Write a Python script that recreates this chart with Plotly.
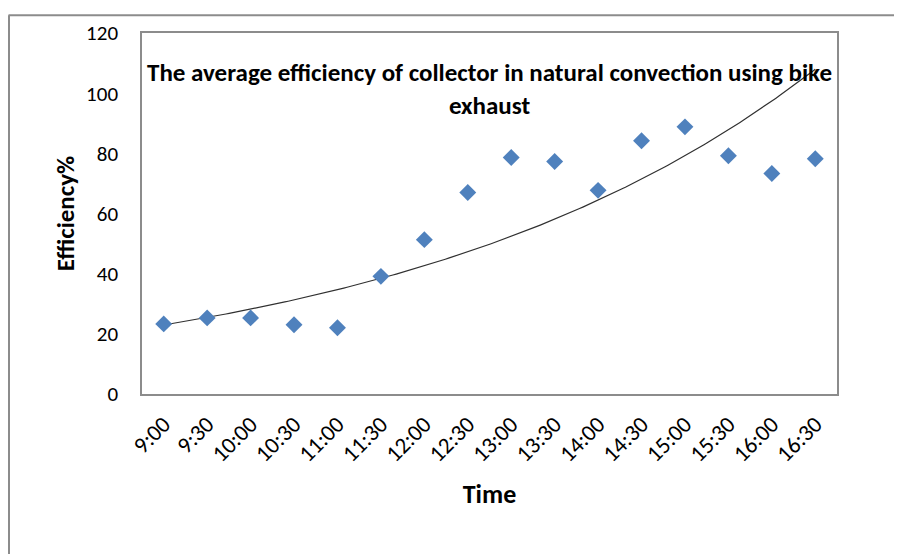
import numpy as np
import plotly.graph_objects as go

times = ["9:00", "9:30", "10:00", "10:30", "11:00", "11:30", "12:00", "12:30",
         "13:00", "13:30", "14:00", "14:30", "15:00", "15:30", "16:00", "16:30"]
efficiency = [23.3, 25.3, 25.3, 23.0, 22.0, 39.1, 51.3, 67.0,
              78.6, 77.3, 67.7, 84.2, 88.8, 79.2, 73.3, 78.2]
y_ticks = [0, 20, 40, 60, 80, 100, 120]

idx = np.arange(1, len(times) + 1)
# exponential trendline (least squares on log values), as in the spreadsheet
b, ln_a = np.polyfit(idx, np.log(efficiency), 1)
xf = np.linspace(1, len(times), 200)
yf = np.exp(ln_a) * np.exp(b * xf)

FONT = "Carlito, Lato, sans-serif"

fig = go.Figure()
fig.add_trace(go.Scatter(x=xf, y=yf, mode="lines",
                         line=dict(color="#303030", width=1.2), hoverinfo="skip",
                         showlegend=False))
fig.add_trace(go.Scatter(x=idx, y=efficiency, mode="markers",
                         marker=dict(symbol="diamond", size=13, color="#4F81BD"),
                         showlegend=False))

# page body has an 8px margin; figure coordinates = screen coordinates - 8
OFF = 8
W, H = 902 - OFF, 554 - OFF
L, R, T, B = 142 - OFF, 837 - OFF, 29 - OFF, 394 - OFF
pw, ph = R - L, B - T


def px(xs):
    return (xs - OFF - L) / pw


def py(ys):
    return (B - (ys - OFF)) / ph


fig.update_layout(
    width=W, height=H,
    margin=dict(l=L, r=W - R, t=T, b=H - B),
    paper_bgcolor="white", plot_bgcolor="white",
    font=dict(family=FONT, color="#000000"),
    xaxis=dict(range=[0.5, len(times) + 0.5], tickmode="array",
               tickvals=list(idx), ticktext=times, tickangle=-45,
               tickfont=dict(size=23), showgrid=False, zeroline=False,
               showline=True, linecolor="#8c8c8c", linewidth=1.5, mirror=True,
               ticks="", ticklabelstandoff=6,
               title=dict(text="<b>Time</b>", font=dict(size=26), standoff=18)),
    yaxis=dict(range=[0, 120], tickmode="array", tickvals=y_ticks,
               tickfont=dict(size=21), showgrid=False, zeroline=False,
               showline=True, linecolor="#8c8c8c", linewidth=1.5, mirror=True,
               ticks="", ticklabelstandoff=18,
               title=dict(text="<b>Efficiency%</b>", font=dict(size=25), standoff=4)),
    annotations=[dict(
        text="<b>The average efficiency of collector in natural convection using bike</b><br><b>exhaust</b>",
        xref="paper", yref="paper", x=px(489), y=py(86), xanchor="center", yanchor="middle",
        showarrow=False, font=dict(size=25, family=FONT))],
    shapes=[
        dict(type="line", xref="paper", yref="paper", x0=px(8.5), x1=px(910), y0=py(11), y1=py(11),
             line=dict(color="#8c8c8c", width=2)),
        dict(type="line", xref="paper", yref="paper", x0=px(9), x1=px(9), y0=py(11), y1=py(560),
             line=dict(color="#8c8c8c", width=2)),
    ],
)

fig.write_html("out.html")
